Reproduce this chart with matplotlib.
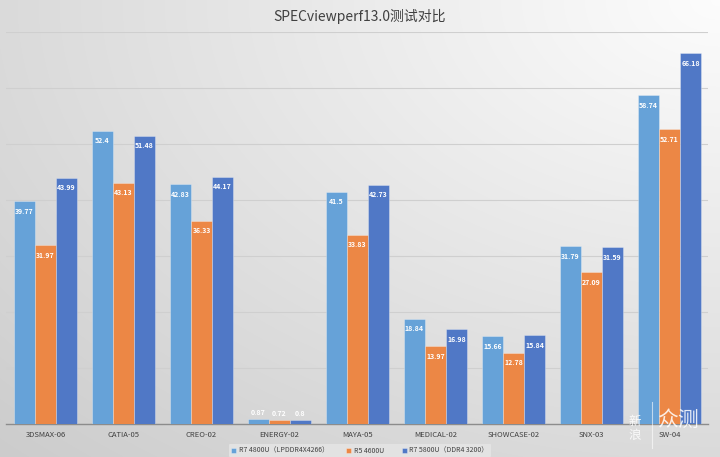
import numpy as np
import matplotlib
matplotlib.use("Agg")
import matplotlib.pyplot as plt

plt.rcParams['font.family'] = ['Noto Sans CJK SC', 'DejaVu Sans']

title = "SPECviewperf13.0测试对比"
categories = ["3DSMAX-06", "CATIA-05", "CREO-02", "ENERGY-02", "MAYA-05",
              "MEDICAL-02", "SHOWCASE-02", "SNX-03", "SW-04"]
series_names = ["R7 4800U（LPDDR4X4266）", "R5 4600U", "R7 5800U（DDR4 3200）"]
r7_4800u = [39.77, 52.4, 42.83, 0.87, 41.5, 18.84, 15.66, 31.79, 58.74]
r5_4600u = [31.97, 43.13, 36.33, 0.72, 33.83, 13.97, 12.78, 27.09, 52.71]
r7_5800u = [43.99, 51.48, 44.17, 0.8, 42.73, 16.98, 15.84, 31.59, 66.18]
label_texts = [
    ["39.77", "52.4", "42.83", "0.87", "41.5", "18.84", "15.66", "31.79", "58.74"],
    ["31.97", "43.13", "36.33", "0.72", "33.83", "13.97", "12.78", "27.09", "52.71"],
    ["43.99", "51.48", "44.17", "0.8", "42.73", "16.98", "15.84", "31.59", "66.18"],
]
colors = ["#66A2D8", "#EC8745", "#5078C6"]

fig = plt.figure(figsize=(7.2, 4.57), dpi=100)

# gradient background
bg = fig.add_axes([0, 0, 1, 1], zorder=-10)
h, w = 457, 720
yy, xx = np.mgrid[0:h, 0:w]
d = np.sqrt(((w - xx) / w) ** 2 + (yy / h) ** 2) / np.sqrt(2)
val = 0.99 - 0.19 * d
img = np.dstack([val, val, val])
bg.imshow(img, aspect='auto', extent=[0, 1, 0, 1], origin='upper')
bg.set_axis_off()

ax = fig.add_axes([0.009, 0.072, 0.975, 0.858])
ax.patch.set_alpha(0)
x = np.arange(len(categories))
bw = 0.27
all_series = [r7_4800u, r5_4600u, r7_5800u]
for i, (vals, c, name) in enumerate(zip(all_series, colors, series_names)):
    pos = x + (i - 1) * bw
    ax.bar(pos, vals, width=bw * 0.97, color=c, label=name, zorder=3,
           edgecolor=(1, 1, 1, 0.35), linewidth=0.6)
    for p, v, t in zip(pos, vals, label_texts[i]):
        if v > 3:
            ax.text(p, v - 1.2, t, ha='center', va='top', color='white',
                    fontsize=5, fontweight='bold', zorder=5)
        else:
            ax.text(p, v + 0.5, t, ha='center', va='bottom', color='white',
                    fontsize=5, fontweight='bold', zorder=5)

ax.set_ylim(0, 70)
ax.set_xlim(-0.5, len(categories) - 0.5)
ax.set_yticks(np.arange(0, 71, 10))
ax.yaxis.grid(True, color='#cfcfcf', linewidth=0.8, zorder=0)
ax.tick_params(axis='y', left=False, labelleft=False)
ax.set_xticks(x)
ax.set_xticklabels(categories, fontsize=5.5, color='#404040')
ax.tick_params(axis='x', length=0, pad=5)
for s in ['top', 'right', 'left']:
    ax.spines[s].set_visible(False)
ax.spines['bottom'].set_color('#8c8c8c')
ax.spines['bottom'].set_linewidth(1.0)

fig.text(0.5, 0.965, title, ha='center', va='center', fontsize=10, color='#404040')

leg = fig.legend(loc='center', bbox_to_anchor=(0.5, 0.014), ncol=3, fontsize=5,
                 frameon=True, handlelength=0.7, handleheight=0.7, columnspacing=2.5,
                 handletextpad=0.4, borderpad=0.4)
leg.get_frame().set_facecolor('#e6e6e6')
leg.get_frame().set_edgecolor('none')
leg.get_frame().set_alpha(0.8)
for t in leg.get_texts():
    t.set_color('#404040')

# watermark
fig.text(0.882, 0.062, "新\n浪", ha='center', va='center', fontsize=9,
         color='white', alpha=0.85, linespacing=1.1)
fig.lines.append(plt.Line2D([0.905, 0.905], [0.02, 0.12], transform=fig.transFigure,
                            color='white', alpha=0.6, linewidth=0.8))
fig.text(0.912, 0.082, "众测", ha='left', va='center', fontsize=15,
         color='white', alpha=0.85)

fig.savefig("out.png", dpi=100)
